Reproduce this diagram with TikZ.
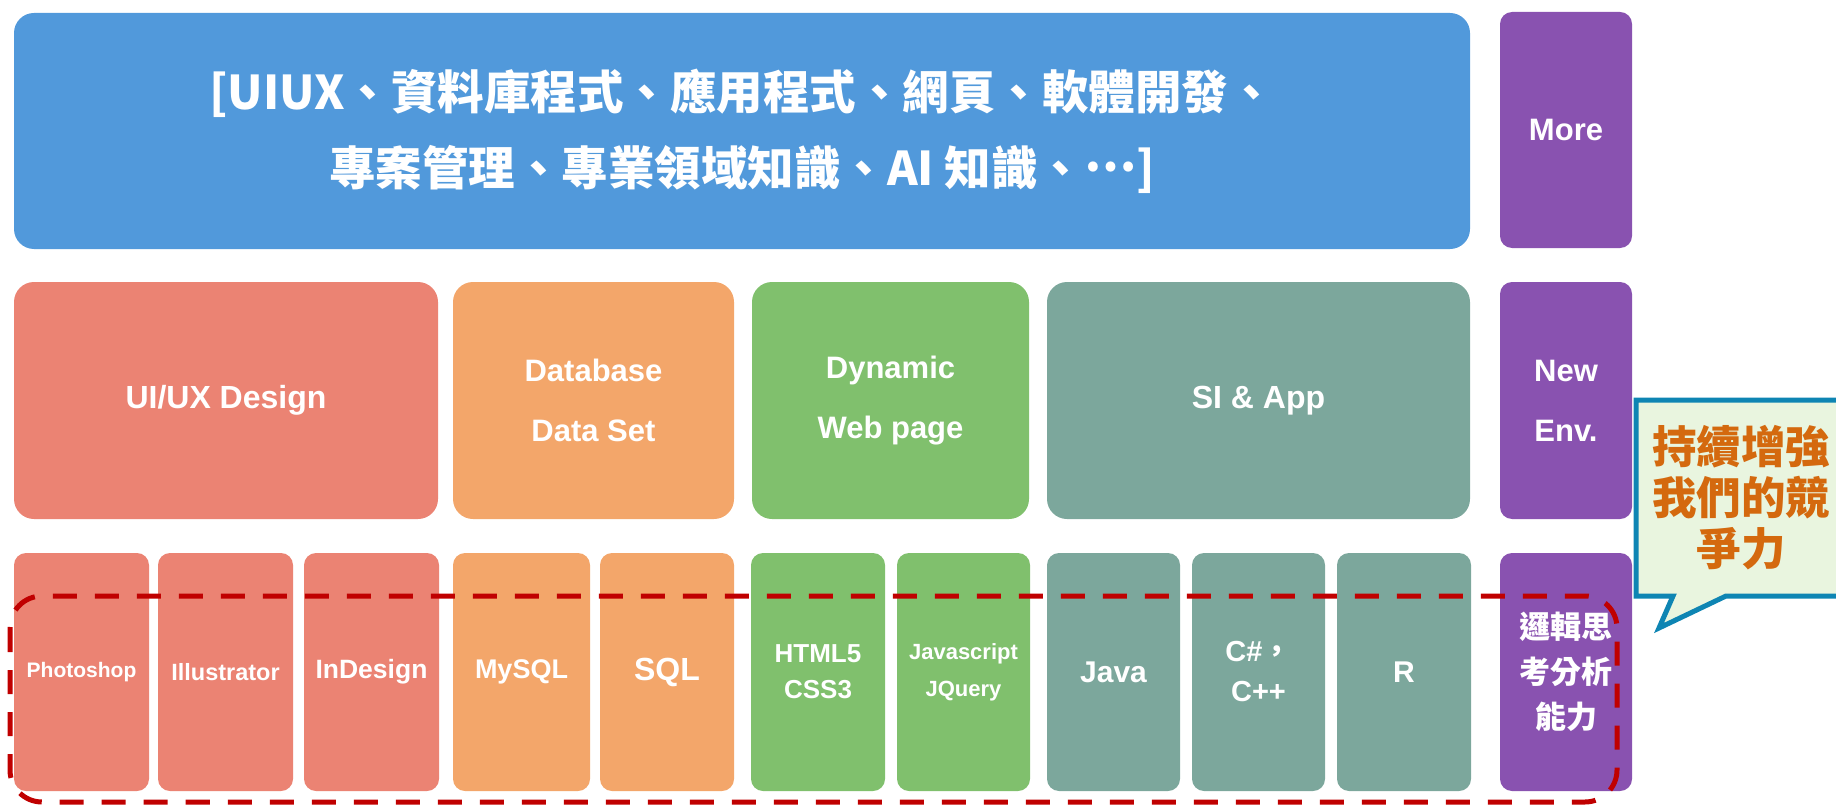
\documentclass[tikz,border=0pt]{standalone}
\usepackage{fontspec}
\setmainfont{Liberation Sans}
\newfontfamily\cjk{Noto Sans CJK TC}
\definecolor{cblue}{HTML}{5199DB}
\definecolor{cpurple}{HTML}{8952B0}
\definecolor{csalmon}{HTML}{EB8373}
\definecolor{corange}{HTML}{F3A66A}
\definecolor{cgreen}{HTML}{80C06D}
\definecolor{cteal}{HTML}{7CA79C}
\definecolor{cred}{HTML}{C00000}
\definecolor{cborder}{HTML}{0E85B3}
\definecolor{cfill}{HTML}{E9F5DF}
\definecolor{ctext}{HTML}{D4690E}
\tikzset{
  box/.style={draw=none, fill=#1, inner sep=0pt, outer sep=0pt, text=white, align=center},
  bigbox/.style={box=#1, rounded corners=20pt},
  midbox/.style={box=#1, rounded corners=20pt, minimum height=237pt, font=\bfseries\fontsize{31}{60}\selectfont},
  smallbox/.style={box=#1, rounded corners=12pt, minimum height=238pt, font=\bfseries},
  dashbox/.style={draw=cred, line width=5pt, dash pattern=on 24pt off 18pt, rounded corners=32pt},
  callout/.style={draw=cborder, fill=cfill, line width=5pt, line join=miter},
}
\begin{document}
\begin{tikzpicture}[x=1pt, y=-1pt]
\useasboundingbox (0,0) rectangle (1836,805);
% top row
\node[bigbox=cblue, minimum width=1456pt, minimum height=236pt,
      font=\cjk\bfseries\fontsize{46.5}{76}\selectfont] (top) at (742,131)
  {[UIUX、資料庫程式、應用程式、網頁、軟體開發、\\專案管理、專業領域知識、AI 知識、\raisebox{0.3em}{…}]};
\node[box=cpurple, rounded corners=12pt, minimum width=132pt, minimum height=236pt,
      font=\bfseries\fontsize{31}{40}\selectfont] (more) at (1566,130) {More};
% middle row
\node[midbox=csalmon, minimum width=424pt] (uiux) at (226,400.5) {\fontsize{32}{40}\selectfont UI/UX Design};
\node[midbox=corange, minimum width=281pt] (db) at (593.5,400.5) {Database\\Data Set};
\node[midbox=cgreen, minimum width=277pt] (dyn) at (890.5,400.5) {Dynamic\\Web page};
\node[midbox=cteal, minimum width=423pt] (si) at (1258.5,400.5) {\fontsize{32}{40}\selectfont SI \& App};
\node[midbox=cpurple, rounded corners=12pt, minimum width=132pt] (newenv) at (1566,400.5) {New\\Env.};
% bottom row
\node[smallbox=csalmon, minimum width=135pt] (ps) at (81.5,672) {\fontsize{21}{30}\selectfont Photoshop};
\node[smallbox=csalmon, minimum width=135pt] (ai) at (225.5,672) {\fontsize{23.5}{30}\selectfont Illustrator};
\node[smallbox=csalmon, minimum width=135pt] (id) at (371.5,672) {\fontsize{26.5}{30}\selectfont InDesign};
\node[smallbox=corange, minimum width=137pt] (mysql) at (521.5,672) {\fontsize{27}{30}\selectfont MySQL};
\node[smallbox=corange, minimum width=134pt] (sql) at (667,672) {\fontsize{32}{36}\selectfont SQL};
\node[smallbox=cgreen, minimum width=134pt, font=\bfseries\fontsize{26}{36}\selectfont] (html) at (818,672) {HTML5\\CSS3};
\node[smallbox=cgreen, minimum width=133pt, font=\bfseries\fontsize{22}{37}\selectfont] (js) at (963.5,672) {Javascript\\JQuery};
\node[smallbox=cteal, minimum width=133pt] (java) at (1113.5,672) {\fontsize{30}{36}\selectfont Java};
\node[smallbox=cteal, minimum width=133pt, font=\bfseries\fontsize{29}{40}\selectfont] (cs) at (1258.5,672) {C\#{\cjk，}\\C++};
\node[smallbox=cteal, minimum width=134pt] (r) at (1404,672) {\fontsize{30}{36}\selectfont R};
\node[smallbox=cpurple, minimum width=132pt, font=\cjk\bfseries\fontsize{31}{45}\selectfont] (logic) at (1566,672) {邏輯思\\考分析\\能力};
% dashed highlight
\draw[dashbox] (10,596) rectangle (1617,802);
% callout
\coordinate (tip) at (1659,628);
\draw[callout] (1636,400) -- (1850,400) -- (1850,596) -- (1726,596) -- (tip) -- (1673,596) -- (1636,596) -- cycle;
\node[text=ctext, align=center, inner sep=0pt, font=\cjk\bfseries\fontsize{44.5}{51}\selectfont] (msg) at (1741,498) {持續增強\\我們的競\\爭力};
\end{tikzpicture}
\end{document}
